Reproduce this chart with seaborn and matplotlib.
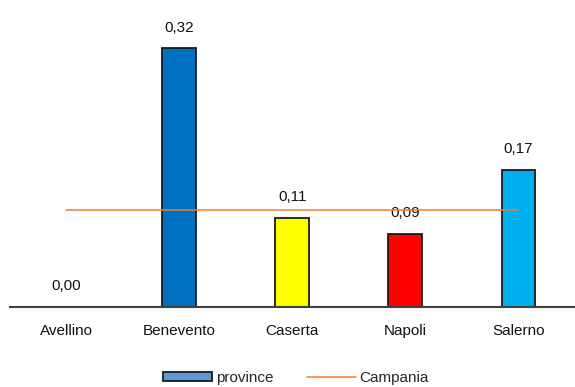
import pandas as pd
import numpy as np
import matplotlib
matplotlib.use("Agg")
import matplotlib.pyplot as plt
import seaborn as sns
from matplotlib.patches import Patch
from matplotlib.lines import Line2D

# data
province = ["Avellino", "Benevento", "Caserta", "Napoli", "Salerno"]
valori = [0.00, 0.32, 0.11, 0.09, 0.17]
campania = 0.12
colori = ["#0070C0", "#0070C0", "#FFFF00", "#FF0000", "#00B0F0"]

df = pd.DataFrame({"provincia": province, "valore": valori})

sns.set_style("white")
plt.rcParams["font.family"] = ["Liberation Sans", "DejaVu Sans"]

fig = plt.figure(figsize=(5.75, 3.87), dpi=100)
ax = fig.add_axes([0.017, 0.207, 0.983, 0.793])

sns.barplot(data=df, x="provincia", y="valore", hue="provincia",
            palette=colori, saturation=1, width=0.3, edgecolor="#1a1a1a",
            linewidth=1.3, legend=False, ax=ax)

# Campania reference line, from first to last category
ax.plot([0, len(province) - 1], [campania, campania], color="#ED7D31", lw=1.1, zorder=5)

for i, v in enumerate(valori):
    ax.annotate(f"{v:.2f}".replace(".", ","), (i, v), xytext=(0, 10),
                textcoords="offset points", ha="center", va="bottom",
                fontsize=11, color="#111111")

ax.set_ylim(0, 0.38)
ax.set_xlim(-0.5, 4.5)
ax.set_xlabel("")
ax.set_ylabel("")
ax.set_yticks([])
ax.tick_params(axis="x", length=0, pad=12, labelsize=11, labelcolor="#111111")
for s in ["top", "right", "left"]:
    ax.spines[s].set_visible(False)
ax.spines["bottom"].set_color("#404040")
ax.spines["bottom"].set_linewidth(1.5)

handles = [Patch(facecolor="#5B9BD5", edgecolor="#1a1a1a", lw=1.3, label="province"),
           Line2D([0], [0], color="#ED7D31", lw=1.1, label="Campania")]
fig.legend(handles=handles, loc="lower center", ncol=2, frameon=False,
           bbox_to_anchor=(0.515, -0.03), fontsize=11, handlelength=3.2,
           handleheight=0.6, columnspacing=2.2, handletextpad=0.25)

fig.savefig("out.png", dpi=100)
